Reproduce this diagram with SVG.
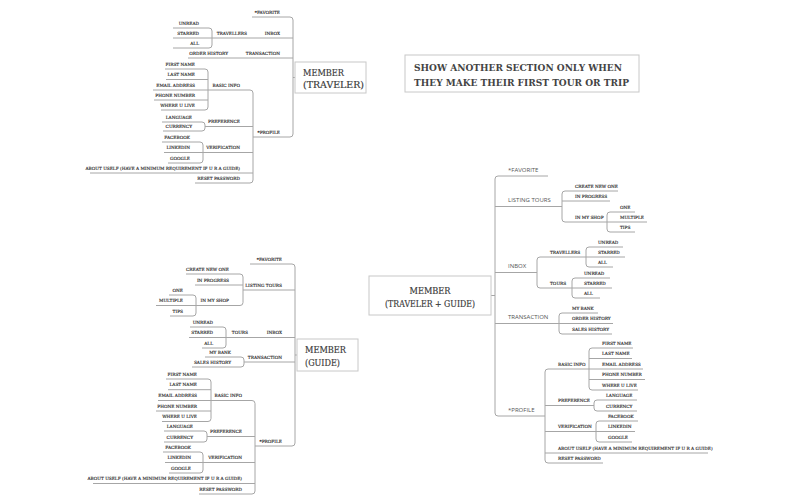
<svg xmlns="http://www.w3.org/2000/svg" width="800" height="500" viewBox="0 0 800 500">
<style>
.bg{fill:#fff}
.ln{fill:none;stroke:#a6a6a6;stroke-width:1}
.box{fill:#fff;stroke:#c8c8c8;stroke-width:1}
.l{font-family:"DejaVu Serif","Liberation Serif",serif;font-size:4.3px;fill:#222;stroke:#222;stroke-width:0.12;text-anchor:end}
.r{font-family:"DejaVu Serif","Liberation Serif",serif;font-size:4.3px;fill:#222;stroke:#222;stroke-width:0.12;text-anchor:start}
.s{font-family:"Open Sans","Noto Sans",sans-serif;font-size:6px;fill:#555}
.root{font-family:"DejaVu Serif","Liberation Serif",serif;font-size:9.5px;fill:#3a3a3a;stroke:#3a3a3a;stroke-width:0.2}
.note{font-family:"DejaVu Serif","Liberation Serif",serif;font-size:9.8px;font-weight:bold;fill:#444}
</style>
<rect class="bg" x="0" y="0" width="800" height="500"/>

<g id="connectors">
  <!-- top-left tree: MEMBER (TRAVELER) -->
  <path class="ln" d="M252,17 H290 A3,3 0 0 1 293,20 V134 A3,3 0 0 1 290,137 H253"/>
  <path class="ln" d="M212,38 H293 M188,58 H293 M293,77.5 H295"/>
  <path class="ln" d="M173,28 H209 A3,3 0 0 1 212,31 V45 A3,3 0 0 1 209,48 H173 M173,38 H212"/>
  <path class="ln" d="M208,90 H250 A3,3 0 0 1 253,93 V180 A3,3 0 0 1 250,183 H195"/>
  <path class="ln" d="M205,126.5 H253 M203,152.5 H253 M90,173 H253"/>
  <path class="ln" d="M165,69 H205 A3,3 0 0 1 208,72 V107 A3,3 0 0 1 205,110 H161 M166,79.5 H208 M153,90 H208 M154,100 H208"/>
  <path class="ln" d="M162,122 H202 A3,3 0 0 1 205,125 V128 A3,3 0 0 1 202,131 H163"/>
  <path class="ln" d="M162,142 H200 A3,3 0 0 1 203,145 V160 A3,3 0 0 1 200,163 H168 M164,152.5 H203"/>

  <!-- bottom-left tree: MEMBER (GUIDE) -->
  <path class="ln" d="M250,264 H292 A3,3 0 0 1 295,267 V443 A3,3 0 0 1 292,446 H255"/>
  <path class="ln" d="M243,290 H295 M226,337.5 H295 M244,362 H295 M295,355 H297"/>
  <path class="ln" d="M186,274 H240 A3,3 0 0 1 243,277 V302.5 A3,3 0 0 1 240,305.5 H196 M195,285 H243"/>
  <path class="ln" d="M169,295 H193 A3,3 0 0 1 196,298 V313 A3,3 0 0 1 193,316 H170 M156,305.5 H196"/>
  <path class="ln" d="M190,327 H223 A3,3 0 0 1 226,330 V345 A3,3 0 0 1 223,348 H202 M189,337.5 H226"/>
  <path class="ln" d="M205,357 H241 A3,3 0 0 1 244,360 V364 A3,3 0 0 1 241,367 H192"/>
  <path class="ln" d="M211,400.5 H252 A3,3 0 0 1 255,403.5 V491 A3,3 0 0 1 252,494 H199"/>
  <path class="ln" d="M207,436.5 H255 M203,462.5 H255 M93,483.5 H255"/>
  <path class="ln" d="M166,379 H208 A3,3 0 0 1 211,382 V418.5 A3,3 0 0 1 208,421.5 H162 M168,389.7 H211 M158,400.5 H211 M156,411 H211"/>
  <path class="ln" d="M164,431 H204 A3,3 0 0 1 207,434 V439 A3,3 0 0 1 204,442 H164"/>
  <path class="ln" d="M163,452 H200 A3,3 0 0 1 203,455 V470 A3,3 0 0 1 200,473 H169 M165,462.5 H203"/>

  <!-- right tree: MEMBER (TRAVELER + GUIDE) -->
  <path class="ln" d="M548,176 H498 A3,3 0 0 0 495,179 V413 A3,3 0 0 0 498,416 H545"/>
  <path class="ln" d="M495,206.5 H562 M495,272.5 H537 M495,323.5 H559 M491,295.5 H495"/>
  <path class="ln" d="M618,191 H565 A3,3 0 0 0 562,194 V219 A3,3 0 0 0 565,222 H607 M562,201 H610"/>
  <path class="ln" d="M635,212 H610 A3,3 0 0 0 607,215 V229 A3,3 0 0 0 610,232 H635 M607,222 H647"/>
  <path class="ln" d="M586,257 H540 A3,3 0 0 0 537,260 V285 A3,3 0 0 0 540,288 H572"/>
  <path class="ln" d="M623,247 H589 A3,3 0 0 0 586,250 V264 A3,3 0 0 0 589,267 H613 M586,257 H625"/>
  <path class="ln" d="M610,278 H575 A3,3 0 0 0 572,281 V295 A3,3 0 0 0 575,298 H600 M572,288 H612"/>
  <path class="ln" d="M598,313 H562 A3,3 0 0 0 559,316 V331 A3,3 0 0 0 562,334 H612 M559,323.5 H613"/>
  <path class="ln" d="M589,369 H548 A3,3 0 0 0 545,372 V460 A3,3 0 0 0 548,463 H603"/>
  <path class="ln" d="M545,405.5 H594 M545,431.5 H596 M545,453 H708"/>
  <path class="ln" d="M633,348 H592 A3,3 0 0 0 589,351 V387 A3,3 0 0 0 592,390 H638 M589,358.5 H632 M589,369 H643 M589,379.5 H645"/>
  <path class="ln" d="M637,400 H597 A3,3 0 0 0 594,403 V408 A3,3 0 0 0 597,411 H637"/>
  <path class="ln" d="M638,421 H599 A3,3 0 0 0 596,424 V439 A3,3 0 0 0 599,442 H632 M596,431.5 H635"/>
</g>

<!-- note -->
<g id="note">
  <rect class="box" x="405" y="55" width="234" height="37"/>
  <text class="note" x="414" y="70.5" textLength="208" lengthAdjust="spacingAndGlyphs">SHOW ANOTHER SECTION ONLY WHEN</text>
  <text class="note" x="414" y="85.5" textLength="215" lengthAdjust="spacingAndGlyphs">THEY MAKE THEIR FIRST TOUR OR TRIP</text>
</g>

<!-- top-left tree nodes -->
<g id="member-traveler">
  <rect class="box" x="295" y="62" width="71" height="31"/>
  <text class="root" x="303" y="76" textLength="41" lengthAdjust="spacingAndGlyphs">MEMBER</text>
  <text class="root" x="303" y="88" textLength="61" lengthAdjust="spacingAndGlyphs">(TRAVELER)</text>
</g>
<g id="t-favorite"><text class="l" x="280" y="13.7">*FAVORITE</text></g>
<g id="t-inbox"><text class="l" x="280" y="34.7">INBOX</text></g>
<g id="t-travellers"><text class="l" x="247" y="34.7">TRAVELLERS</text></g>
<g id="t-unread"><text class="l" x="199" y="24.7">UNREAD</text></g>
<g id="t-starred"><text class="l" x="199" y="34.7">STARRED</text></g>
<g id="t-all"><text class="l" x="199" y="44.7">ALL</text></g>
<g id="t-transaction"><text class="l" x="280" y="54.7">TRANSACTION</text></g>
<g id="t-order"><text class="l" x="228" y="54.7">ORDER HISTORY</text></g>
<g id="t-profile"><text class="l" x="280" y="133.7">*PROFILE</text></g>
<g id="t-basic"><text class="l" x="240" y="86.7">BASIC INFO</text></g>
<g id="t-first"><text class="l" x="195" y="65.7">FIRST NAME</text></g>
<g id="t-last"><text class="l" x="195" y="76.2">LAST NAME</text></g>
<g id="t-email"><text class="l" x="195" y="86.7">EMAIL ADDRESS</text></g>
<g id="t-phone"><text class="l" x="195" y="96.7">PHONE NUMBER</text></g>
<g id="t-where"><text class="l" x="195" y="106.7">WHERE U LIVE</text></g>
<g id="t-preference"><text class="l" x="240" y="123.2">PREFERENCE</text></g>
<g id="t-language"><text class="l" x="192" y="118.7">LANGUAGE</text></g>
<g id="t-currency"><text class="l" x="192" y="127.7">CURRENCY</text></g>
<g id="t-verification"><text class="l" x="240" y="149.2">VERIFICATION</text></g>
<g id="t-facebook"><text class="l" x="190" y="138.7">FACEBOOK</text></g>
<g id="t-linkedin"><text class="l" x="190" y="149.2">LINKEDIN</text></g>
<g id="t-google"><text class="l" x="190" y="159.7">GOOGLE</text></g>
<g id="t-about"><text class="l" x="240" y="169.7">ABOUT USELF (HAVE A MINIMUM REQUIREMENT IF U R A GUIDE)</text></g>
<g id="t-reset"><text class="l" x="240" y="179.7">RESET PASSWORD</text></g>

<!-- bottom-left tree nodes -->
<g id="member-guide">
  <rect class="box" x="297" y="339" width="61" height="32"/>
  <text class="root" x="305" y="353" textLength="41" lengthAdjust="spacingAndGlyphs">MEMBER</text>
  <text class="root" x="305" y="365.5" textLength="35" lengthAdjust="spacingAndGlyphs">(GUIDE)</text>
</g>
<g id="g-favorite"><text class="l" x="282" y="260.7">*FAVORITE</text></g>
<g id="g-listing"><text class="l" x="282" y="286.7">LISTING TOURS</text></g>
<g id="g-create"><text class="l" x="229" y="270.7">CREATE NEW ONE</text></g>
<g id="g-inprogress"><text class="l" x="229" y="281.7">IN PROGRESS</text></g>
<g id="g-inmyshop"><text class="l" x="229" y="302.2">IN MY SHOP</text></g>
<g id="g-one"><text class="l" x="183" y="291.7">ONE</text></g>
<g id="g-multiple"><text class="l" x="183" y="302.2">MULTIPLE</text></g>
<g id="g-tips"><text class="l" x="183" y="312.7">TIPS</text></g>
<g id="g-inbox"><text class="l" x="282" y="334.2">INBOX</text></g>
<g id="g-tours"><text class="l" x="248" y="334.2">TOURS</text></g>
<g id="g-unread"><text class="l" x="213" y="323.7">UNREAD</text></g>
<g id="g-starred"><text class="l" x="213" y="334.2">STARRED</text></g>
<g id="g-all"><text class="l" x="213" y="344.7">ALL</text></g>
<g id="g-transaction"><text class="l" x="282" y="358.7">TRANSACTION</text></g>
<g id="g-mybank"><text class="l" x="231" y="353.7">MY BANK</text></g>
<g id="g-sales"><text class="l" x="231" y="363.7">SALES HISTORY</text></g>
<g id="g-profile"><text class="l" x="282" y="442.7">*PROFILE</text></g>
<g id="g-basic"><text class="l" x="242" y="397.2">BASIC INFO</text></g>
<g id="g-first"><text class="l" x="197" y="375.7">FIRST NAME</text></g>
<g id="g-last"><text class="l" x="197" y="386.4">LAST NAME</text></g>
<g id="g-email"><text class="l" x="197" y="397.2">EMAIL ADDRESS</text></g>
<g id="g-phone"><text class="l" x="197" y="407.7">PHONE NUMBER</text></g>
<g id="g-where"><text class="l" x="197" y="418.2">WHERE U LIVE</text></g>
<g id="g-preference"><text class="l" x="242" y="433.2">PREFERENCE</text></g>
<g id="g-language"><text class="l" x="193" y="427.7">LANGUAGE</text></g>
<g id="g-currency"><text class="l" x="193" y="438.7">CURRENCY</text></g>
<g id="g-verification"><text class="l" x="242" y="459.2">VERIFICATION</text></g>
<g id="g-facebook"><text class="l" x="191" y="448.7">FACEBOOK</text></g>
<g id="g-linkedin"><text class="l" x="191" y="459.2">LINKEDIN</text></g>
<g id="g-google"><text class="l" x="191" y="469.7">GOOGLE</text></g>
<g id="g-about"><text class="l" x="242" y="480.2">ABOUT USELF (HAVE A MINIMUM REQUIREMENT IF U R A GUIDE)</text></g>
<g id="g-reset"><text class="l" x="242" y="490.7">RESET PASSWORD</text></g>

<!-- right tree nodes -->
<g id="member-traveler-guide">
  <rect class="box" x="369" y="276" width="122" height="39"/>
  <text class="root" x="430" y="294" text-anchor="middle" textLength="41" lengthAdjust="spacingAndGlyphs">MEMBER</text>
  <text class="root" x="430" y="306.5" text-anchor="middle" textLength="90" lengthAdjust="spacingAndGlyphs">(TRAVELER + GUIDE)</text>
</g>
<g id="r-favorite"><text class="s" x="508" y="171.7">*FAVORITE</text></g>
<g id="r-listing"><text class="s" x="508" y="202.2">LISTING TOURS</text></g>
<g id="r-create"><text class="r" x="575" y="187.7">CREATE NEW ONE</text></g>
<g id="r-inprogress"><text class="r" x="575" y="197.7">IN PROGRESS</text></g>
<g id="r-inmyshop"><text class="r" x="575" y="218.7">IN MY SHOP</text></g>
<g id="r-one"><text class="r" x="620" y="208.7">ONE</text></g>
<g id="r-multiple"><text class="r" x="620" y="218.7">MULTIPLE</text></g>
<g id="r-tips"><text class="r" x="620" y="228.7">TIPS</text></g>
<g id="r-inbox"><text class="s" x="508" y="268.2">INBOX</text></g>
<g id="r-travellers"><text class="r" x="550" y="253.7">TRAVELLERS</text></g>
<g id="r-unread1"><text class="r" x="598" y="243.7">UNREAD</text></g>
<g id="r-starred1"><text class="r" x="598" y="253.7">STARRED</text></g>
<g id="r-all1"><text class="r" x="598" y="263.7">ALL</text></g>
<g id="r-tours"><text class="r" x="550" y="284.7">TOURS</text></g>
<g id="r-unread2"><text class="r" x="584" y="274.7">UNREAD</text></g>
<g id="r-starred2"><text class="r" x="584" y="284.7">STARRED</text></g>
<g id="r-all2"><text class="r" x="584" y="294.7">ALL</text></g>
<g id="r-transaction"><text class="s" x="508" y="319.2">TRANSACTION</text></g>
<g id="r-mybank"><text class="r" x="572" y="309.7">MY BANK</text></g>
<g id="r-order"><text class="r" x="572" y="320.2">ORDER HISTORY</text></g>
<g id="r-sales"><text class="r" x="572" y="330.7">SALES HISTORY</text></g>
<g id="r-profile"><text class="s" x="508" y="411.7">*PROFILE</text></g>
<g id="r-basic"><text class="r" x="558" y="365.7">BASIC INFO</text></g>
<g id="r-first"><text class="r" x="602" y="344.7">FIRST NAME</text></g>
<g id="r-last"><text class="r" x="602" y="355.2">LAST NAME</text></g>
<g id="r-email"><text class="r" x="602" y="365.7">EMAIL ADDRESS</text></g>
<g id="r-phone"><text class="r" x="602" y="376.2">PHONE NUMBER</text></g>
<g id="r-where"><text class="r" x="602" y="386.7">WHERE U LIVE</text></g>
<g id="r-preference"><text class="r" x="558" y="402.2">PREFERENCE</text></g>
<g id="r-language"><text class="r" x="606" y="396.7">LANGUAGE</text></g>
<g id="r-currency"><text class="r" x="606" y="407.7">CURRENCY</text></g>
<g id="r-verification"><text class="r" x="558" y="428.2">VERIFICATION</text></g>
<g id="r-facebook"><text class="r" x="608" y="417.7">FACEBOOK</text></g>
<g id="r-linkedin"><text class="r" x="608" y="428.2">LINKEDIN</text></g>
<g id="r-google"><text class="r" x="608" y="438.7">GOOGLE</text></g>
<g id="r-about"><text class="r" x="558" y="449.7">ABOUT USELF (HAVE A MINIMUM REQUIREMENT IF U R A GUIDE)</text></g>
<g id="r-reset"><text class="r" x="558" y="459.7">RESET PASSWORD</text></g>
</svg>
